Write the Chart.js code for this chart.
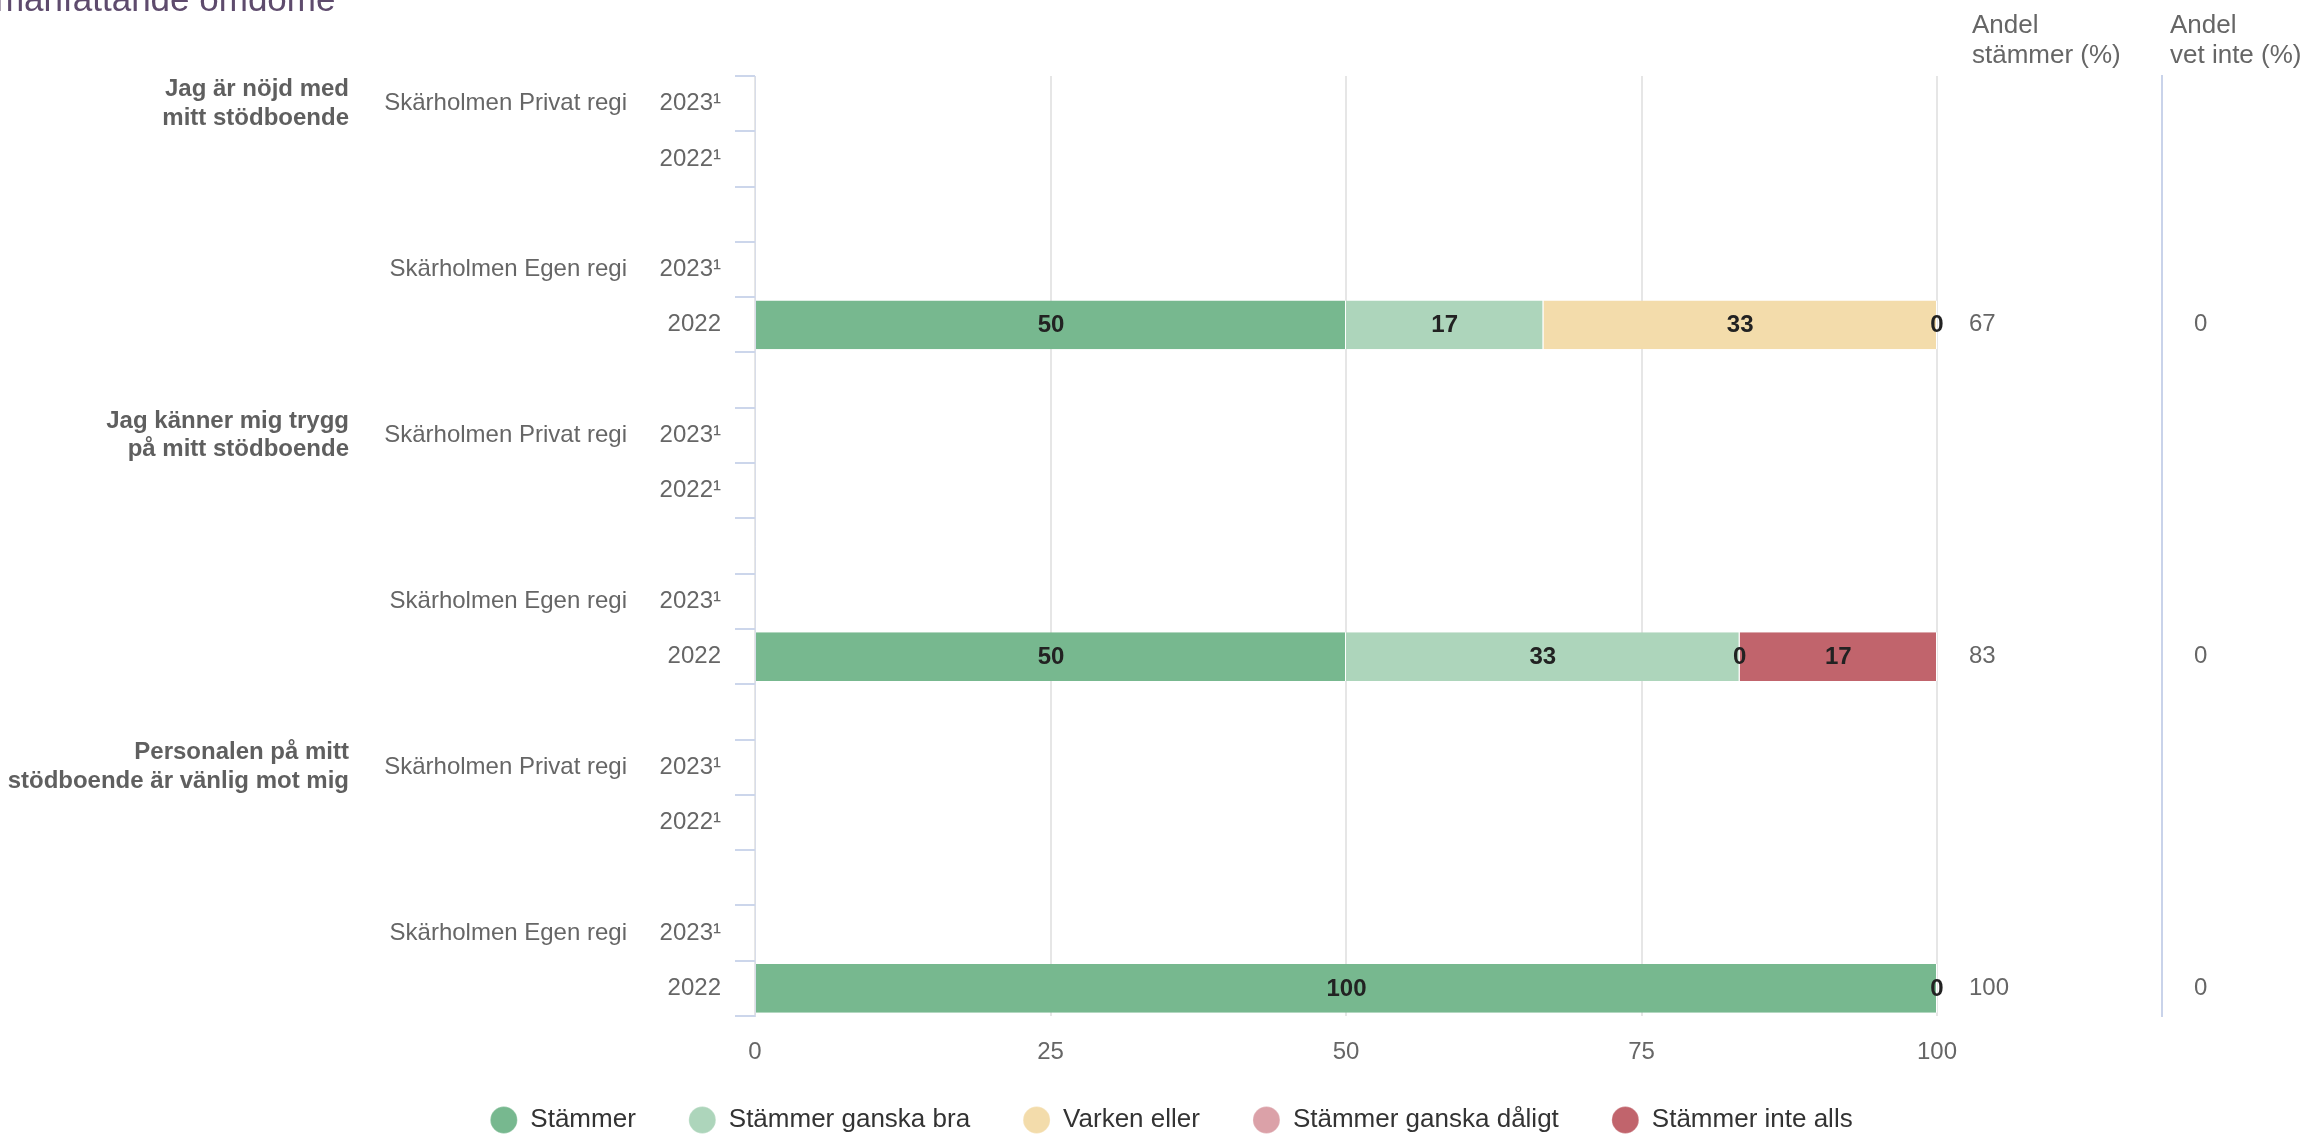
<!DOCTYPE html>
<html lang="sv">
<head>
<meta charset="utf-8">
<title>Sammanfattande omdöme</title>
<script src="https://cdn.jsdelivr.net/npm/chart.js@4.4.1/dist/chart.umd.min.js"></script>
<style>
  html, body { margin: 0; padding: 0; background: #fff; overflow: hidden; }
  .wrap { position: relative; width: 2307px; height: 1134px; }
  .rubrik {
    position: absolute; left: -77px; top: -19px; margin: 0;
    font: normal 35px/35px "Liberation Sans", Arial, sans-serif;
    color: #5e4b6d; white-space: nowrap;
  }
</style>
</head>
<body>
<div class="wrap">
  <h2 class="rubrik">Sammanfattande omdöme</h2>
  <canvas id="chart"></canvas>
</div>
<script>
  const FONT = '"Liberation Sans", Arial, sans-serif';

  // ================== DATA ==================
  // 17 rows: 3 questions x (Privat 2023, Privat 2022, gap, Egen 2023, Egen 2022) with gaps between
  const rowYears = [
    "2023¹", "2022¹", "", "2023¹", "2022", "",
    "2023¹", "2022¹", "", "2023¹", "2022", "",
    "2023¹", "2022¹", "", "2023¹", "2022"
  ];
  const rowUnits = [
    "Skärholmen Privat regi", "", "", "Skärholmen Egen regi", "", "",
    "Skärholmen Privat regi", "", "", "Skärholmen Egen regi", "", "",
    "Skärholmen Privat regi", "", "", "Skärholmen Egen regi", ""
  ];
  const rowQuestions = [
    ["Jag är nöjd med", "mitt stödboende"], "", "", "", "", "",
    ["Jag känner mig trygg", "på mitt stödboende"], "", "", "", "", "",
    ["Personalen på mitt", "stödboende är vänlig mot mig"], "", "", "", ""
  ];

  const seriesNames = ["Stämmer", "Stämmer ganska bra", "Varken eller", "Stämmer ganska dåligt", "Stämmer inte alls"];
  const stammer    = [null, null, null, null, 50,   null, null, null, null, null, 50,   null, null, null, null, null, 100];
  const ganskaBra  = [null, null, null, null, 16.7, null, null, null, null, null, 33.3, null, null, null, null, null, 0];
  const varkenEller= [null, null, null, null, 33.3, null, null, null, null, null, 0,    null, null, null, null, null, 0];
  const ganskaDalig= [null, null, null, null, 0,    null, null, null, null, null, 0,    null, null, null, null, null, 0];
  const inteAlls   = [null, null, null, null, 0,    null, null, null, null, null, 16.7, null, null, null, null, null, 0];

  const andelStammer = ["", "", "", "", "67", "", "", "", "", "", "83", "", "", "", "", "", "100"];
  const andelVetInte = ["", "", "", "", "0",  "", "", "", "", "", "0",  "", "", "", "", "", "0"];
  const headerStammer = ["Andel", "stämmer (%)"];
  const headerVetInte = ["Andel", "vet inte (%)"];

  const xMin = 0, xMax = 100, xStep = 25;

  const seriesColors = ["#77b88f", "#add5bb", "#f3dcab", "#dba1a8", "#c1646c"];

  // ================== PLUGINS ==================
  const barValueLabels = {
    id: "barValueLabels",
    afterDatasetsDraw(chart) {
      const { ctx } = chart;
      const seen = new Set();
      ctx.save();
      ctx.font = `bold 24px ${FONT}`;
      ctx.fillStyle = "#222";
      ctx.textAlign = "center";
      ctx.textBaseline = "middle";
      chart.data.datasets.forEach((ds, i) => {
        chart.getDatasetMeta(i).data.forEach((bar, j) => {
          const v = ds.data[j];
          if (v === null || v === undefined) return;
          const cx = (bar.x + bar.base) / 2;
          const key = j + ":" + Math.round(cx);
          if (seen.has(key)) return; // overlapping zero labels
          seen.add(key);
          ctx.fillText(String(Math.round(v)), cx, bar.y + 1);
        });
      });
      ctx.restore();
    }
  };

  const columnHeaders = {
    id: "columnHeaders",
    afterDraw(chart) {
      const { ctx, scales } = chart;
      ctx.save();
      ctx.font = `26px ${FONT}`;
      ctx.fillStyle = "#666";
      ctx.textAlign = "left";
      ctx.textBaseline = "alphabetic";
      [[scales.andel, 35, headerStammer], [scales.vetinte, 8, headerVetInte]].forEach(([s, dx, lines]) => {
        lines.forEach((t, k) => ctx.fillText(t, s.left + dx, 33 + k * 30));
      });
      ctx.restore();
    }
  };

  // ================== CHART ==================
  const seriesData = [stammer, ganskaBra, varkenEller, ganskaDalig, inteAlls];

  const sideAxis = (labels, position, weight, padding, width, extra = {}) => ({
    type: "category",
    axis: "y",
    position,
    weight,
    offset: true,
    labels,
    ticks: { autoSkip: false, padding, color: "#666", font: { family: FONT, size: 24 } },
    grid: { display: false, drawTicks: false },
    border: { display: false },
    afterFit: (s) => { s.width = width; },
    ...extra
  });

  new Chart(document.getElementById("chart"), {
    type: "bar",
    data: {
      labels: rowYears,
      datasets: seriesNames.map((name, i) => ({
        label: name,
        data: seriesData[i],
        backgroundColor: seriesColors[i],
        borderColor: "#ffffff",
        borderWidth: { top: 0, bottom: 0, left: 0, right: 1 },
        borderSkipped: false,
        barPercentage: 0.88,
        categoryPercentage: 1.0
      }))
    },
    options: {
      indexAxis: "y",
      responsive: true,
      maintainAspectRatio: false,
      animation: false,
      // negative right padding only to centre the full-width legend like the original
      layout: { padding: { top: 76, left: 0, right: -36, bottom: 0 } },
      plugins: {
        tooltip: { enabled: false },
        legend: {
          position: "bottom",
          maxHeight: 80,
          labels: {
            usePointStyle: true,
            pointStyle: "circle",
            pointStyleWidth: 27,
            boxHeight: 19,
            padding: 53,
            color: "#333",
            font: { family: FONT, size: 26 }
          }
        }
      },
      scales: {
        x: {
          stacked: true,
          min: xMin,
          max: xMax,
          // mirrored with negative padding so labels are not clipped by the thin axis box
          ticks: { stepSize: xStep, mirror: true, padding: -51, color: "#666", font: { family: FONT, size: 24 } },
          grid: { color: "#e6e6e6", lineWidth: 2, drawTicks: false },
          border: { display: false },
          afterFit: (s) => { s.height = 38; }
        },
        y: {
          stacked: true,
          position: "left",
          weight: 0,
          offset: true,
          ticks: { autoSkip: false, padding: 14, color: "#666", font: { family: FONT, size: 24 } },
          grid: { offset: true, drawOnChartArea: false, drawTicks: true, tickLength: 20, tickColor: "#ccd6eb", lineWidth: 2 },
          border: { display: true, color: "#d8dde9", width: 1 },
          afterFit: (s) => { s.width = 115; }
        },
        unit: sideAxis(rowUnits, "left", 1, 13, 280),
        question: sideAxis(rowQuestions, "left", 2, 11, 360, {
          ticks: { autoSkip: false, padding: 11, color: "#5f5f5f", font: { family: FONT, size: 24, weight: "bold", lineHeight: 1.2 } }
        }),
        andel: sideAxis(andelStammer, "right", 0, 32, 225),
        vetinte: sideAxis(andelVetInte, "right", 1, 32, 181, {
          border: { display: true, color: "#c9d3ea", width: 2 }
        })
      }
    },
    plugins: [barValueLabels, columnHeaders]
  });
</script>
</body>
</html>
